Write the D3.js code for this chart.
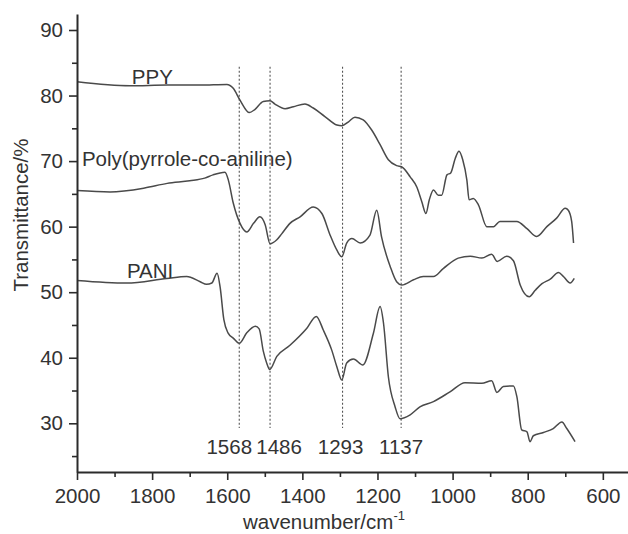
<!DOCTYPE html>
<html>
<head>
<meta charset="utf-8">
<script src="https://cdn.jsdelivr.net/npm/d3@7"></script>
<style>
  html, body { margin: 0; padding: 0; background: #fff; }
  svg { display: block; font-family: "Liberation Sans", Arial, sans-serif; }
</style>
</head>
<body>
<svg id="chart" width="628" height="534"></svg>
<script>
'use strict';

// FTIR spectra: [wavenumber cm-1, transmittance %]
var ppy = [
  [2000, 82.1], [1859, 81.5], [1760, 81.6], [1672, 81.6], [1601, 81.7], [1584, 81.1],
  [1566, 79.3], [1541, 77.4], [1526, 77.9], [1504, 79.1], [1486, 79.2], [1473, 78.7],
  [1446, 78.0], [1424, 78.3], [1393, 78.7], [1371, 78.1], [1340, 76.8], [1308, 75.5],
  [1295, 75.4], [1277, 76.0], [1260, 76.7], [1238, 76.3], [1215, 74.7], [1193, 72.5],
  [1171, 70.2], [1149, 69.3], [1135, 69.1], [1113, 67.6], [1095, 66.0], [1082, 63.8],
  [1071, 62.0], [1062, 64.1], [1051, 65.6], [1038, 64.8], [1029, 64.8], [1015, 67.9],
  [1005, 68.2], [993, 70.4], [983, 71.5], [973, 70.2], [962, 67.1], [956, 64.1],
  [945, 64.3], [931, 63.3], [909, 60.0], [891, 60.0], [874, 60.8], [829, 60.8],
  [802, 59.7], [776, 58.5], [749, 60.0], [723, 61.3], [700, 62.8], [692, 62.5],
  [683, 60.8], [678, 57.5]
];

var copolymer = [
  [2000, 65.5], [1912, 65.3], [1820, 65.9], [1760, 66.6], [1700, 67.0], [1660, 67.4],
  [1638, 67.9], [1606, 68.3], [1597, 67.1], [1584, 63.6], [1566, 60.5], [1548, 59.2],
  [1530, 60.5], [1513, 61.5], [1499, 60.3], [1486, 57.4], [1468, 58.0], [1455, 58.9],
  [1433, 60.5], [1406, 61.5], [1371, 63.0], [1348, 62.0], [1326, 58.7], [1308, 56.4],
  [1295, 55.4], [1282, 57.5], [1268, 58.2], [1246, 57.5], [1220, 58.7], [1202, 62.5],
  [1189, 58.4], [1166, 53.9], [1149, 51.6], [1135, 51.1], [1104, 51.9], [1078, 52.4],
  [1051, 52.4], [1025, 53.6], [985, 55.2], [953, 55.5], [922, 55.2], [896, 55.8],
  [881, 54.7], [856, 55.5], [838, 54.8], [820, 51.1], [796, 49.3], [780, 50.3],
  [762, 51.3], [740, 52.0], [718, 53.0], [705, 52.4], [687, 51.4], [676, 52.1]
];

var pani = [
  [2000, 51.8], [1868, 51.4], [1761, 52.1], [1708, 52.4], [1672, 51.6], [1655, 51.2],
  [1641, 51.4], [1627, 52.9], [1619, 50.8], [1609, 45.8], [1598, 43.8], [1584, 43.0],
  [1568, 42.2], [1548, 43.8], [1525, 44.8], [1515, 44.4], [1504, 41.0], [1495, 39.2],
  [1487, 38.2], [1468, 40.2], [1433, 41.9], [1388, 44.5], [1363, 46.3], [1344, 44.2],
  [1322, 41.2], [1308, 38.6], [1295, 36.6], [1282, 39.2], [1264, 39.8], [1239, 38.9],
  [1211, 43.7], [1193, 47.8], [1184, 45.3], [1171, 37.1], [1153, 32.5], [1140, 30.7],
  [1113, 31.3], [1087, 32.5], [1051, 33.3], [1007, 34.8], [967, 36.2], [922, 36.1],
  [896, 36.5], [882, 34.7], [865, 35.6], [838, 35.7], [829, 34.1], [816, 29.0],
  [802, 28.7], [794, 27.2], [785, 28.1], [758, 28.6], [732, 29.2], [709, 30.2],
  [696, 29.2], [674, 27.2]
];

var seriesNames = ['PPY', 'Poly(pyrrole-co-aniline)', 'PANI'];
// where each name sits, in data units [wavenumber, transmittance]
var seriesNamePos = [[1854, 81.8], [1987, 69.2], [1867, 52.2]];

var peakWn = [1568, 1486, 1293, 1137];
var peakLabels = ['1568', '1486', '1293', '1137'];
var peakTop = 84.4, peakBottom = 29.3, peakLabelT = 25.3;

var xTicks = [2000, 1800, 1600, 1400, 1200, 1000, 800, 600];
var xMinor = [1900, 1700, 1500, 1300, 1100, 900, 700];
var yTicks = [30, 40, 50, 60, 70, 80, 90];
var yMinor = [25, 35, 45, 55, 65, 75, 85];

var svg = d3.select('#chart');
var plotLeft = 77, plotRight = 628, plotTop = 14, plotBottom = 472;
var fs = 20.5;

var x = d3.scaleLinear().domain([2000, 533]).range([plotLeft, plotRight]);
var y = d3.scaleLinear().domain([22.57, 92.44]).range([plotBottom, plotTop]);

var ink = '#2b2b2b';

// dotted marker lines
svg.append('g').selectAll('line')
  .data(peakWn)
  .enter().append('line')
  .attr('x1', function (d) { return x(d); })
  .attr('x2', function (d) { return x(d); })
  .attr('y1', y(peakTop))
  .attr('y2', y(peakBottom))
  .attr('stroke', '#555')
  .attr('stroke-width', 1.1)
  .attr('stroke-dasharray', '2,2');

var labelShift = [-10, 9, -2, 0];
svg.append('g').selectAll('text')
  .data(peakLabels)
  .enter().append('text')
  .attr('x', function (d, i) { return x(peakWn[i]) + labelShift[i]; })
  .attr('y', y(peakLabelT))
  .attr('text-anchor', 'middle')
  .attr('font-size', fs)
  .attr('fill', '#333')
  .text(function (d) { return d; });

// spectra
var line = d3.line()
  .x(function (d) { return x(d[0]); })
  .y(function (d) { return y(d[1]); })
  .curve(d3.curveMonotoneX);

[ppy, copolymer, pani].forEach(function (s) {
  svg.append('path')
    .datum(s.slice().reverse())
    .attr('d', line)
    .attr('fill', 'none')
    .attr('stroke', '#4a4a4a')
    .attr('stroke-width', 1.5)
    .attr('stroke-linejoin', 'round');
});

svg.append('g').selectAll('text')
  .data(seriesNames)
  .enter().append('text')
  .attr('x', function (d, i) { return x(seriesNamePos[i][0]); })
  .attr('y', function (d, i) { return y(seriesNamePos[i][1]); })
  .attr('font-size', fs)
  .attr('fill', '#333')
  .text(function (d) { return d; });

// axes
var fmt = d3.format('d');
svg.append('g')
  .attr('transform', 'translate(0,' + plotBottom + ')')
  .call(d3.axisBottom(x).tickValues(xTicks).tickFormat(fmt)
    .tickSize(8).tickPadding(8).tickSizeOuter(0));
svg.append('g')
  .attr('transform', 'translate(0,' + plotBottom + ')')
  .call(d3.axisBottom(x).tickValues(xMinor).tickSize(5).tickFormat('').tickSizeOuter(0))
  .select('.domain').remove();

svg.append('g')
  .attr('transform', 'translate(' + plotLeft + ',0)')
  .call(d3.axisLeft(y).tickValues(yTicks).tickFormat(fmt)
    .tickSize(8).tickPadding(6).tickSizeOuter(0));
svg.append('g')
  .attr('transform', 'translate(' + plotLeft + ',0)')
  .call(d3.axisLeft(y).tickValues(yMinor).tickSize(5).tickFormat('').tickSizeOuter(0))
  .select('.domain').remove();

svg.selectAll('.domain').attr('stroke', ink).attr('stroke-width', 2);
svg.selectAll('.tick line').attr('stroke', ink).attr('stroke-width', 1.6);
svg.selectAll('.tick text')
  .attr('font-size', fs)
  .attr('font-family', '"Liberation Sans", Arial, sans-serif')
  .attr('fill', '#333');

// axis titles
svg.append('text')
  .attr('transform', 'translate(28,215) rotate(-90)')
  .attr('text-anchor', 'middle')
  .attr('font-size', fs)
  .attr('fill', '#333')
  .text('Transmittance/%');

var xt = svg.append('text')
  .attr('x', 243)
  .attr('y', 529)
  .attr('font-size', fs)
  .attr('fill', '#333');
xt.append('tspan').text('wavenumber/cm');
xt.append('tspan').attr('font-size', 13).attr('dy', -9).text('-1');
</script>
</body>
</html>
